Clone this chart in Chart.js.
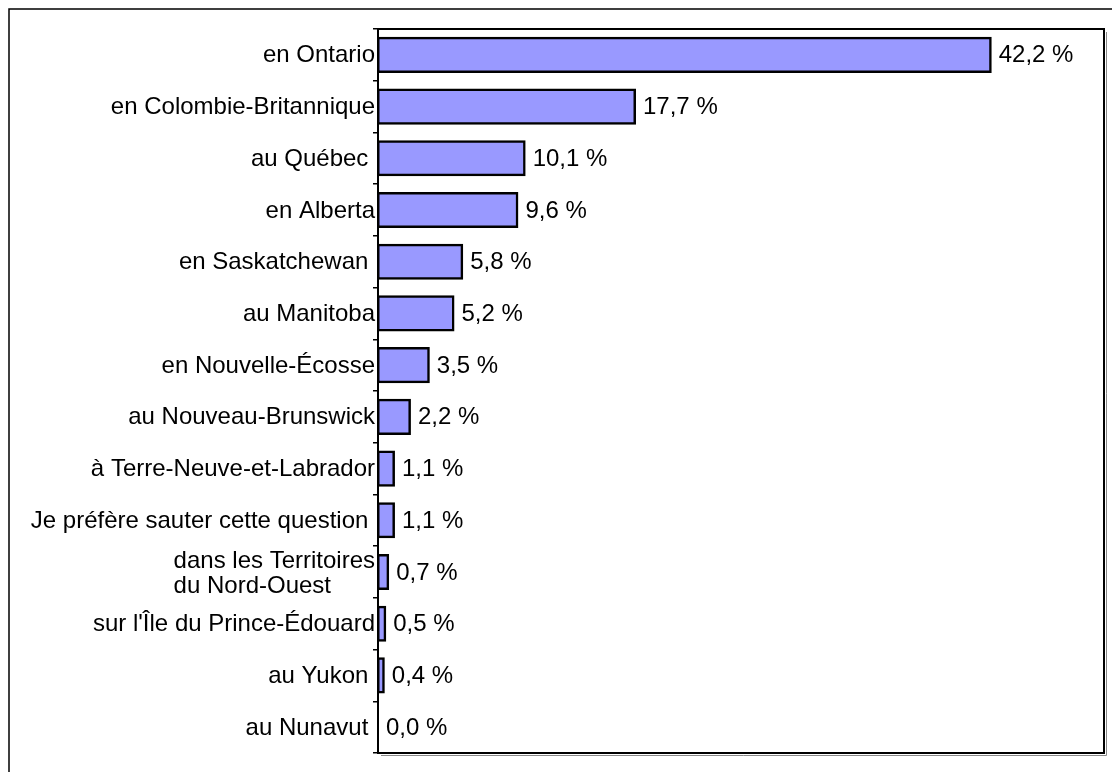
<!DOCTYPE html>
<html>
<head>
<meta charset="utf-8">
<script src="https://cdn.jsdelivr.net/npm/chart.js@4/dist/chart.umd.min.js"></script>
<style>
  html, body { margin: 0; padding: 0; background: #fff; }
  #wrap { width: 1112px; height: 772px; }
</style>
</head>
<body>
<div id="wrap"><canvas id="myChart" width="1112" height="772"></canvas></div>
<script>
const categories = [
  'en Ontario',
  'en Colombie-Britannique',
  'au Québec ',
  'en Alberta',
  'en Saskatchewan ',
  'au Manitoba',
  'en Nouvelle-Écosse',
  'au Nouveau-Brunswick',
  'à Terre-Neuve-et-Labrador',
  'Je préfère sauter cette question ',
  ['dans les Territoires', 'du Nord-Ouest'],
  'sur l\'Île du Prince-Édouard',
  'au Yukon ',
  'au Nunavut '
];
const values = [42.2, 17.7, 10.1, 9.6, 5.8, 5.2, 3.5, 2.2, 1.1, 1.1, 0.7, 0.5, 0.4, 0.0];
const axisMax = 50;

const FONT = '24px "Liberation Sans", Arial, sans-serif';

function formatValue(v){
  return v.toFixed(1).replace('.', ',') + ' %';
}

const framePlugin = {
  id: 'frame',
  beforeDraw: function(chart){
    const ctx = chart.ctx;
    ctx.save();
    ctx.fillStyle = '#fff';
    ctx.fillRect(0, 0, chart.width, chart.height);
    // outer border (runs off the right and bottom edges)
    ctx.strokeStyle = '#000';
    ctx.lineWidth = 1.5;
    ctx.beginPath();
    ctx.moveTo(9, chart.height + 2);
    ctx.lineTo(9, 9);
    ctx.lineTo(chart.width + 2, 9);
    ctx.stroke();
    ctx.restore();
  },
  afterDatasetsDraw: function(chart){
    const ctx = chart.ctx;
    const area = chart.chartArea;
    const meta = chart.getDatasetMeta(0);
    ctx.save();
    // plot area box with shadow
    ctx.strokeStyle = '#888';
    ctx.lineWidth = 1;
    ctx.beginPath();
    ctx.moveTo(area.right + 2.5, area.top + 3);
    ctx.lineTo(area.right + 2.5, area.bottom + 2.5);
    ctx.lineTo(area.left + 3, area.bottom + 2.5);
    ctx.stroke();
    ctx.strokeStyle = '#000';
    ctx.lineWidth = 2;
    ctx.strokeRect(area.left, area.top, area.right - area.left, area.bottom - area.top);

    ctx.font = FONT;
    ctx.fillStyle = '#000';
    ctx.textBaseline = 'middle';

    // category labels
    const yScale = chart.scales.y;
    categories.forEach(function(label, i){
      const lines = Array.isArray(label) ? label : [label];
      const y = yScale.getPixelForValue(i);
      const lineH = 25;
      let maxW = 0;
      lines.forEach(function(l){ maxW = Math.max(maxW, ctx.measureText(l).width); });
      ctx.textAlign = 'left';
      const x0 = area.left - 3 - maxW;
      const dy = lines.length > 1 ? 2 : 1;
      lines.forEach(function(l, j){
        ctx.fillText(l, x0, y + (j - (lines.length - 1) / 2) * lineH + dy);
      });
    });

    // value labels
    ctx.textAlign = 'left';
    meta.data.forEach(function(bar, i){
      ctx.fillText(formatValue(values[i]), bar.x + 8, bar.y + 1);
    });
    ctx.restore();
  }
};

const app = {
  initChart: function(){
    const thisApp = this;
    thisApp.ctx = document.getElementById('myChart').getContext('2d');
    // eslint-disable-next-line no-undef
    thisApp.chart = new Chart(thisApp.ctx, {
      type: 'bar',
      data: {
        labels: categories,
        datasets: [{
          data: values,
          backgroundColor: '#9999ff',
          borderColor: '#000',
          borderWidth: 2.5,
          borderSkipped: false,
          inflateAmount: 1,
          barPercentage: 0.66,
          categoryPercentage: 1
        }]
      },
      options: {
        indexAxis: 'y',
        responsive: false,
        animation: false,
        layout: { padding: { top: 29, right: 8, bottom: 19, left: 0 } },
        plugins: {
          legend: { display: false },
          tooltip: { enabled: false }
        },
        scales: {
          x: {
            display: false,
            min: 0,
            max: axisMax
          },
          y: {
            offset: true,
            ticks: { display: false },
            grid: {
              offset: true,
              drawOnChartArea: false,
              drawTicks: true,
              tickLength: 5,
              color: '#000',
              lineWidth: 1.5
            },
            border: { display: true, color: '#000', width: 2 },
            afterFit: function(scale){ scale.width = 378; }
          }
        }
      },
      plugins: [framePlugin]
    });
  },

  init: function(){
    this.initChart();
  }
};

app.init();
</script>
</body>
</html>
